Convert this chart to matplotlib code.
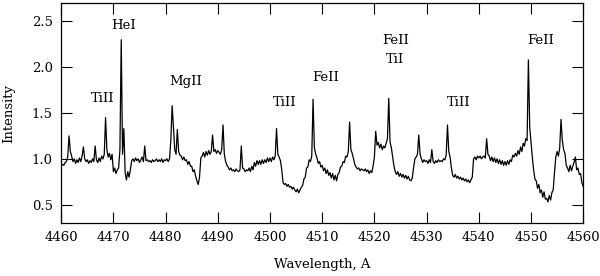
import matplotlib
matplotlib.use('Agg')
import matplotlib.pyplot as plt
import numpy as np

plt.rcParams['font.family'] = ['DejaVu Serif']

# wavelength grid (A), 0.25 A step, and intensity
wl_start, wl_stop, wl_step = 4460.0, 4560.0, 0.25
intensity = [
    0.92, 0.94, 0.93, 0.96,  # 4460
    0.97, 1.02, 1.25, 1.08,  # 4461
    1.03, 0.97, 1.00, 0.95,  # 4462
    0.99, 0.96, 1.01, 0.97,  # 4463
    1.03, 1.13, 1.00, 0.97,  # 4464
    0.99, 0.95, 0.98, 0.96,  # 4465
    1.00, 0.97, 1.14, 0.99,  # 4466
    0.96, 1.01, 0.97, 1.03,  # 4467
    1.00, 1.05, 1.45, 1.10,  # 4468
    1.02, 1.06, 0.99, 1.05,  # 4469
    0.86, 0.90, 0.84, 0.88,  # 4470
    0.90, 1.10, 2.30, 1.05,  # 4471
    1.33, 0.85, 0.77, 0.86,  # 4472
    0.80, 0.88, 0.98, 1.00,  # 4473
    0.97, 1.01, 0.98, 1.00,  # 4474
    0.96, 0.99, 1.02, 0.97,  # 4475
    1.14, 0.98, 0.99, 0.97,  # 4476
    0.98, 0.96, 0.99, 0.97,  # 4477
    0.98, 1.00, 0.97, 0.99,  # 4478
    0.97, 1.00, 0.96, 0.99,  # 4479
    0.98, 1.00, 0.97, 1.00,  # 4480
    1.20, 1.58, 1.35, 1.10,  # 4481
    1.05, 1.32, 1.08, 1.04,  # 4482
    1.03, 0.99, 1.02, 0.98,  # 4483
    0.99, 0.94, 0.97, 0.92,  # 4484
    0.92, 0.86, 0.88, 0.81,  # 4485
    0.76, 0.72, 0.80, 1.01,  # 4486
    1.03, 1.07, 1.02, 1.08,  # 4487
    1.04, 1.09, 1.05, 1.08,  # 4488
    1.26, 1.08, 1.10, 1.06,  # 4489
    1.09, 1.07, 1.05, 1.10,  # 4490
    1.37, 1.05, 0.97, 0.93,  # 4491
    0.91, 0.88, 0.90, 0.87,  # 4492
    0.88, 0.86, 0.89, 0.87,  # 4493
    0.86, 0.88, 1.14, 0.90,  # 4494
    0.89, 0.86, 0.88, 0.87,  # 4495
    0.90, 0.86, 0.92, 0.88,  # 4496
    0.96, 0.92, 0.98, 0.94,  # 4497
    0.98, 0.94, 0.99, 0.95,  # 4498
    0.99, 0.96, 1.01, 0.97,  # 4499
    1.01, 0.97, 1.02, 0.99,  # 4500
    1.03, 1.33, 1.05, 1.02,  # 4501
    0.98, 0.88, 0.74, 0.72,  # 4502
    0.73, 0.70, 0.72, 0.69,  # 4503
    0.70, 0.67, 0.69, 0.66,  # 4504
    0.64, 0.67, 0.63, 0.66,  # 4505
    0.69, 0.71, 0.78, 0.80,  # 4506
    0.90, 0.91, 0.99, 0.97,  # 4507
    1.03, 1.65, 1.12, 1.05,  # 4508
    1.01, 0.95, 0.97, 0.91,  # 4509
    0.93, 0.87, 0.90, 0.84,  # 4510
    0.88, 0.82, 0.85, 0.79,  # 4511
    0.84, 0.77, 0.82, 0.76,  # 4512
    0.83, 0.85, 0.91, 0.92,  # 4513
    0.97, 0.96, 1.03, 1.02,  # 4514
    1.08, 1.40, 1.10, 1.06,  # 4515
    1.00, 0.94, 0.91, 0.89,  # 4516
    0.90, 0.87, 0.89, 0.88,  # 4517
    0.87, 0.89, 0.86, 0.88,  # 4518
    0.84, 0.87, 0.85, 0.92,  # 4519
    1.02, 1.30, 1.15, 1.18,  # 4520
    1.12, 1.16, 1.10, 1.14,  # 4521
    1.12, 1.17, 1.22, 1.66,  # 4522
    1.18, 1.12, 1.02, 0.92,  # 4523
    0.86, 0.83, 0.86, 0.81,  # 4524
    0.84, 0.80, 0.83, 0.79,  # 4525
    0.82, 0.78, 0.81, 0.77,  # 4526
    0.76, 0.79, 0.90, 1.00,  # 4527
    1.02, 1.05, 1.26, 1.05,  # 4528
    1.00, 0.96, 0.99, 0.97,  # 4529
    0.98, 0.95, 0.99, 0.96,  # 4530
    1.10, 0.97, 0.95, 0.98,  # 4531
    0.96, 0.99, 0.97, 0.98,  # 4532
    0.97, 1.00, 0.99, 1.04,  # 4533
    1.37, 1.08, 1.02, 0.90,  # 4534
    0.82, 0.80, 0.83, 0.79,  # 4535
    0.81, 0.78, 0.80, 0.77,  # 4536
    0.79, 0.76, 0.78, 0.75,  # 4537
    0.77, 0.74, 0.77, 0.80,  # 4538
    1.00, 1.02, 0.99, 1.03,  # 4539
    1.01, 1.03, 1.00, 1.02,  # 4540
    1.03, 1.01, 1.22, 1.05,  # 4541
    1.03, 0.98, 1.02, 0.97,  # 4542
    1.01, 0.96, 1.00, 0.95,  # 4543
    0.99, 0.94, 0.98, 0.93,  # 4544
    0.97, 0.93, 0.98, 0.94,  # 4545
    0.99, 0.97, 1.04, 1.02,  # 4546
    1.06, 1.03, 1.09, 1.05,  # 4547
    1.13, 1.08, 1.17, 1.14,  # 4548
    1.22, 1.20, 2.08, 1.35,  # 4549
    1.18, 1.02, 0.88, 0.78,  # 4550
    0.76, 0.68, 0.72, 0.63,  # 4551
    0.66, 0.58, 0.64, 0.56,  # 4552
    0.57, 0.53, 0.60, 0.55,  # 4553
    0.63, 0.66, 0.85, 1.02,  # 4554
    1.08, 1.03, 1.12, 1.43,  # 4555
    1.20, 1.10, 1.06, 0.93,  # 4556
    0.90, 0.86, 0.93, 0.87,  # 4557
    0.92, 0.96, 1.02, 0.88,  # 4558
    0.90, 0.83, 0.84, 0.74,  # 4559
    0.70,                    # 4560
]
wavelength = np.arange(len(intensity)) * wl_step + wl_start

# line identifications
line_names = ['TiII', 'HeI', 'MgII', 'TiII', 'FeII', 'FeII', 'TiI', 'TiII', 'FeII']
line_x = [4468.0, 4471.9, 4483.9, 4502.9, 4510.6, 4524.0, 4524.0, 4536.1, 4551.8]
line_y = [1.66, 2.46, 1.84, 1.62, 1.89, 2.29, 2.08, 1.61, 2.29]

fig = plt.figure(figsize=(6.0, 2.76), dpi=100)
ax = fig.add_axes([0.102, 0.192, 0.870, 0.797])
ax.plot(wavelength, intensity, color='black', lw=0.9)

for name, x, y in zip(line_names, line_x, line_y):
    ax.text(x, y, name, ha='center', va='center', fontsize=9.5)

ax.set_xlim(4460, 4560)
ax.set_ylim(0.3, 2.7)
ax.set_xticks(np.arange(4460, 4561, 10))
ax.set_yticks([0.5, 1.0, 1.5, 2.0, 2.5])
ax.tick_params(direction='in', length=8, width=0.8, top=True, right=True,
               labelsize=9.5, pad=6)
for s in ax.spines.values():
    s.set_linewidth(0.9)
ax.set_xlabel('Wavelength, A', fontsize=9.5, labelpad=10)
ax.set_ylabel('Intensity', fontsize=9.5, labelpad=12)

fig.savefig('out.png', dpi=100)
